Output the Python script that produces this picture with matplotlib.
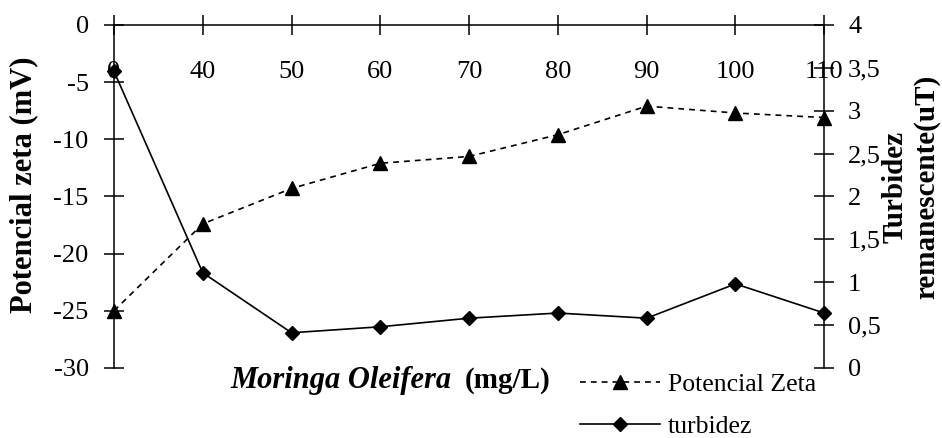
import matplotlib
matplotlib.use("Agg")
import matplotlib.pyplot as plt

plt.rcParams['font.family'] = ['Liberation Serif', 'DejaVu Serif']
plt.rcParams['axes.unicode_minus'] = False

# dosis de Moringa Oleifera (mg/L)
dosis = ["0", "40", "50", "60", "70", "80", "90", "100", "110"]
# potencial zeta (mV) - eje izquierdo
zeta = [-25.0, -17.4, -14.3, -12.1, -11.5, -9.6, -7.1, -7.7, -8.1]
# turbidez remanescente (uT) - eje derecho
turb = [3.46, 1.11, 0.41, 0.48, 0.58, 0.64, 0.58, 0.98, 0.64]

zeta_ticks = [0, -5, -10, -15, -20, -25, -30]
turb_ticks = [0, 0.5, 1, 1.5, 2, 2.5, 3, 3.5, 4]
turb_labels = ["0", "0,5", "1", "1,5", "2", "2,5", "3", "3,5", "4"]

fig = plt.figure(figsize=(9.42, 4.38), dpi=100)
ax = fig.add_axes([0.121, 0.160, 0.754, 0.783])
ax2 = ax.twinx()

l1, = ax.plot(dosis, zeta, color='black', lw=1.2, ls=(0, (3.5, 3)),
              marker='^', ms=10, clip_on=False, zorder=5, label='Potencial Zeta')
l2, = ax2.plot(dosis, turb, color='black', lw=1.2, marker='D', ms=7.3,
               clip_on=False, zorder=5, label='turbidez')

ax.set_xlim(0, len(dosis) - 1)
ax.set_ylim(-30, 0)
ax2.set_ylim(0, 4)

# eje x cruzando en 0 (arriba)
ax.spines['bottom'].set_position(('data', 0))
ax.spines['top'].set_visible(False)
ax.spines['right'].set_visible(False)
ax2.spines['top'].set_visible(False)
ax2.spines['bottom'].set_visible(False)
ax2.spines['left'].set_visible(False)
for sp in ['left', 'bottom']:
    ax.spines[sp].set_linewidth(1.1)
ax2.spines['right'].set_linewidth(1.1)

ax.set_yticks(zeta_ticks)
ax.set_yticklabels([str(t) for t in zeta_ticks])
ax2.set_yticks(turb_ticks)
ax2.set_yticklabels(turb_labels)

ax.tick_params(axis='x', direction='inout', length=14.4, width=1.1, pad=19, labelsize=19)
ax.tick_params(axis='y', direction='inout', length=14.4, width=1.1, pad=11, labelsize=19)
ax2.tick_params(axis='y', direction='inout', length=14.4, width=1.1, pad=10, labelsize=19)

fig.text(0.025, 0.578, "Potencial zeta (mV)", rotation=90, ha='center', va='center',
         fontsize=22, fontweight='bold')
fig.text(0.967, 0.573, "Turbidez\nremanescente(uT)", rotation=90, ha='center', va='center',
         fontsize=21, fontweight='bold', linespacing=1.25)

fig.text(230 / 942, 0.132, "Moringa Oleifera", ha='left', va='center',
         fontsize=22, fontweight='bold', style='italic')
fig.text(465 / 942, 0.132, "(mg/L)", ha='left', va='center',
         fontsize=21, fontweight='bold')

fig.legend(handles=[l1, l2], loc='upper left', bbox_to_anchor=(0.605, 0.172),
           frameon=False, fontsize=18.5, numpoints=1, handlelength=3.1,
           labelspacing=0.75, handletextpad=0.3, borderaxespad=0)

fig.savefig("out.png", dpi=100)
